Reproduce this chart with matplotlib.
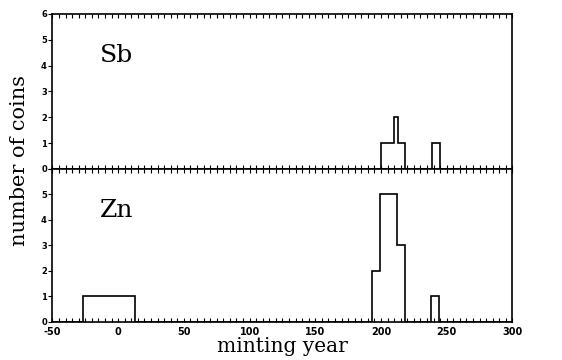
import numpy as np
import matplotlib
matplotlib.use('Agg')
import matplotlib.pyplot as plt
from matplotlib.ticker import MultipleLocator

# step histograms (bin edges in minting year, counts per bin)
sb_edges = [-50, 200, 210, 213, 218, 239, 245, 300]
sb_counts = [0, 1, 2, 1, 0, 1, 0]
zn_edges = [-50, -27, 13, 193, 199, 212, 218, 238, 244, 300]
zn_counts = [0, 1, 0, 2, 5, 3, 0, 1, 0]

panels = [("Sb", sb_edges, sb_counts), ("Zn", zn_edges, zn_counts)]
x_ticks = [-50, 0, 50, 100, 150, 200, 250, 300]

fig = plt.figure(figsize=(5.62, 3.6), dpi=100)
left, width = 0.0934, 0.8185
ax_top = fig.add_axes([left, 0.5306, width, 0.4306])
ax_bot = fig.add_axes([left, 0.1064, width, 0.4242])

tick_font = dict(family='DejaVu Sans', weight='bold', size=6)

for ax, (name, edges, counts) in zip([ax_top, ax_bot], panels):
    ax.stairs(counts, edges, color='black', lw=1.2, baseline=0)
    ax.set_xlim(-50, 300)
    ax.set_ylim(0, 6)
    ax.xaxis.set_major_locator(MultipleLocator(50))
    ax.xaxis.set_minor_locator(MultipleLocator(5))
    ax.tick_params(axis='x', which='both', direction='in', top=True, bottom=True,
                   length=3, width=0.8)
    ax.tick_params(axis='y', which='major', direction='out', left=True, right=False,
                   length=3, width=0.8, pad=1)
    for sp in ax.spines.values():
        sp.set_linewidth(1.2)
    ax.text(0.103, 0.73, name, transform=ax.transAxes, fontsize=18,
            family='DejaVu Serif', va='center', ha='left')

ax_top.set_yticks(range(0, 7))
ax_top.set_yticklabels([str(v) for v in range(0, 7)], **tick_font)
ax_top.tick_params(axis='x', labelbottom=False)

ax_bot.set_yticks(range(0, 7))
ax_bot.set_yticklabels([str(v) for v in range(0, 6)] + [''], **tick_font)
ax_bot.set_xticks(x_ticks)
ax_bot.set_xticklabels([str(v) for v in x_ticks], **dict(tick_font, size=7))
ax_bot.tick_params(axis='x', pad=3.5)
ax_bot.set_xlabel("minting year", family='DejaVu Serif', fontsize=14.5, labelpad=0)

fig.text(0.034, 0.553, "number of coins", rotation=90, family='DejaVu Serif',
         fontsize=15, va='center', ha='center')

plt.savefig("out.png", dpi=100)
plt.close()
